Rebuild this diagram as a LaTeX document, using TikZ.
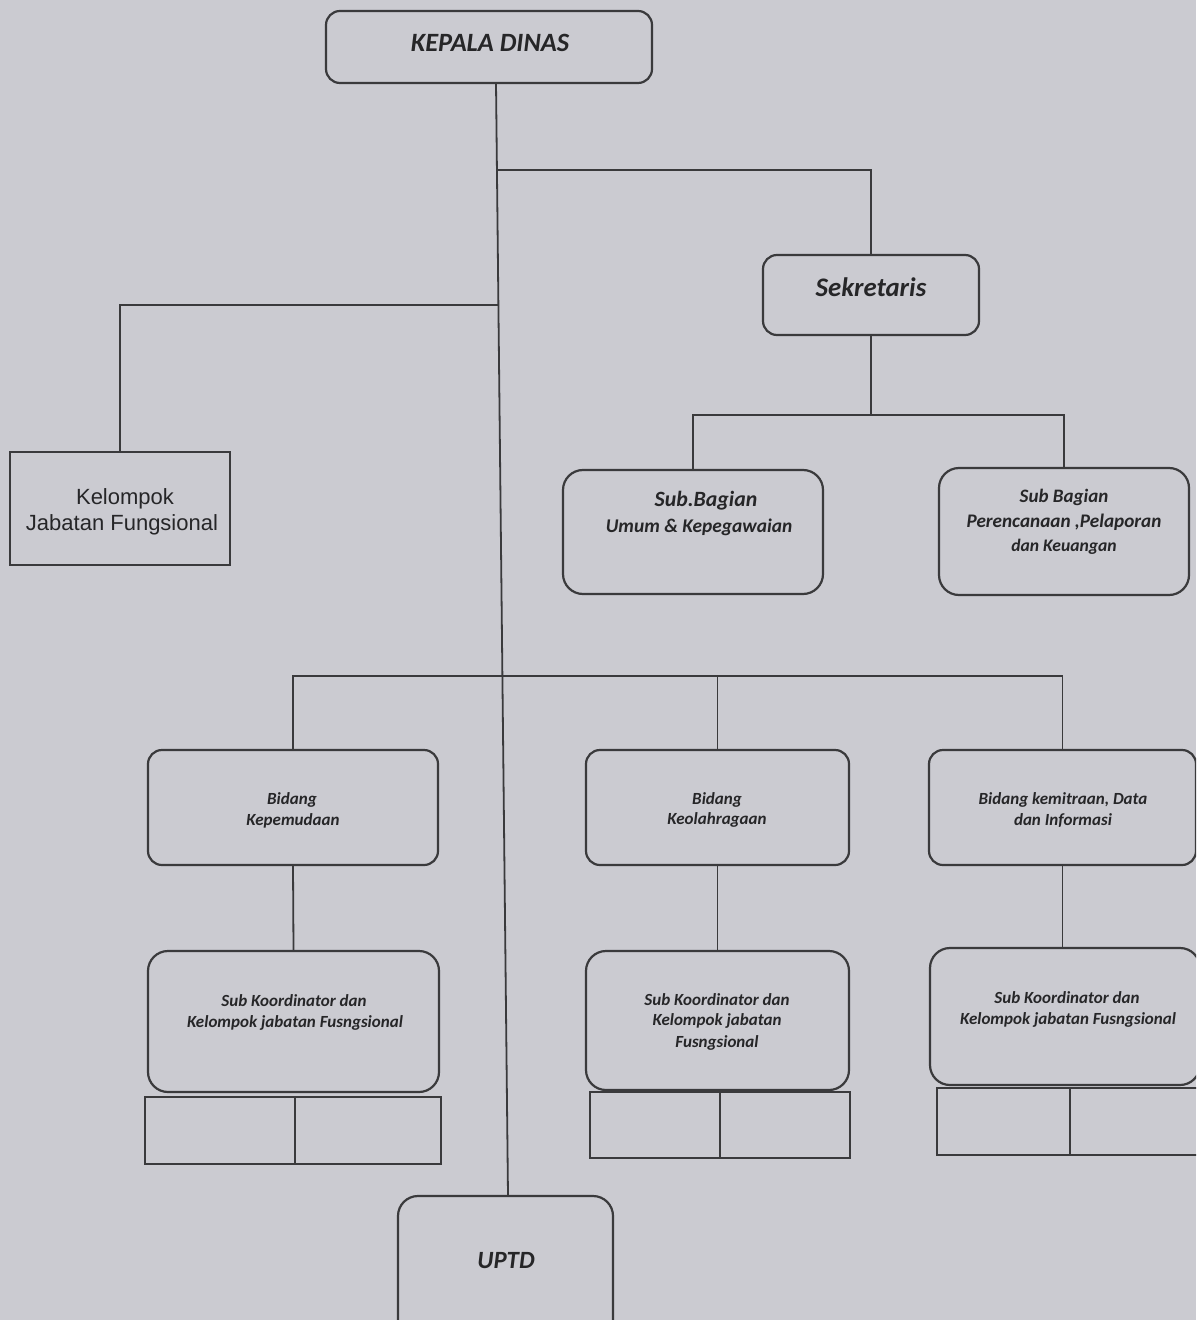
\documentclass[tikz,border=0pt]{standalone}
\usepackage{fontspec}
\setmainfont{Carlito}
\newfontfamily\arialf{Liberation Sans}
\usetikzlibrary{calc}
\definecolor{paper}{RGB}{203,203,209}
\definecolor{ink}{RGB}{58,58,60}
\definecolor{txt}{RGB}{38,38,40}
\tikzset{
  box/.style={draw=ink, line width=1.1pt, rounded corners=7pt, inner sep=0pt, fill=none},
  sqbox/.style={draw=ink, line width=1pt, inner sep=0pt},
  lbl/.style={text=txt, inner sep=0pt, font=\bfseries\itshape},
  conn/.style={draw=ink, line width=0.9pt},
}
\begin{document}
\begin{tikzpicture}[x=0.5pt,y=-0.5pt]
\useasboundingbox (0,0) rectangle (1196,1320);
\fill[paper] (0,0) rectangle (1196,1320);
\clip (0,0) rectangle (1196,1320);

% boxes
\node[box, minimum width=163pt, minimum height=36pt] (kd) at (489,47) {};
\node[box, minimum width=108pt, minimum height=40pt] (sek) at (871,295) {};
\node[box, rounded corners=10pt, minimum width=130pt, minimum height=62pt] (sb1) at (693,532) {};
\node[box, rounded corners=10pt, minimum width=125pt, minimum height=63.5pt] (sb2) at (1064,531.5) {};
\node[sqbox, minimum width=110pt, minimum height=56.5pt] (kjf) at (120,508.5) {};
\node[box, minimum width=145pt, minimum height=57.5pt] (b1) at (293,807.5) {};
\node[box, minimum width=131.5pt, minimum height=57.5pt] (b2) at (717.5,807.5) {};
\node[box, minimum width=133.5pt, minimum height=57.5pt] (b3) at (1062.5,807.5) {};
\node[box, rounded corners=10pt, minimum width=145.5pt, minimum height=70.5pt] (k1) at (293.5,1021.5) {};
\node[box, rounded corners=10pt, minimum width=131.5pt, minimum height=69.5pt] (k2) at (717.5,1020.5) {};
\node[box, rounded corners=10pt, minimum width=135pt, minimum height=68.5pt] (k3) at (1065,1016.5) {};
\node[sqbox, minimum width=75pt, minimum height=33.5pt] (t1a) at (220,1130.5) {};
\node[sqbox, minimum width=73pt, minimum height=33.5pt] (t1b) at (368,1130.5) {};
\node[sqbox, minimum width=65pt, minimum height=33pt] (t2a) at (655,1125) {};
\node[sqbox, minimum width=65pt, minimum height=33pt] (t2b) at (785,1125) {};
\node[sqbox, minimum width=66.5pt, minimum height=33.5pt] (t3a) at (1003.5,1121.5) {};
\node[sqbox, minimum width=70pt, minimum height=33.5pt] (t3b) at (1140,1121.5) {};
\node[box, rounded corners=10pt, minimum width=107.5pt, minimum height=74.5pt] (uptd) at (505.5,1270.5) {};

% labels
\node[lbl, font=\fontsize{13.2}{15}\selectfont\bfseries\itshape] (kdt) at (490,43) {KEPALA DINAS};
\node[lbl, font=\fontsize{13.4}{15}\selectfont\bfseries\itshape] (sekt) at (871,287) {Sekretaris};
\node[lbl, font=\fontsize{10.9}{12}\selectfont\bfseries\itshape] (sb1t1) at (706,501) {Sub.Bagian};
\node[lbl, font=\fontsize{9.7}{11}\selectfont\bfseries\itshape] (sb1t2) at (699,527) {Umum \& Kepegawaian};
\node[lbl, font=\fontsize{9.5}{11}\selectfont\bfseries\itshape] (sb2t1) at (1064,497) {Sub Bagian};
\node[lbl, font=\fontsize{9.6}{11}\selectfont\bfseries\itshape] (sb2t2) at (1064,522) {Perencanaan ,Pelaporan};
\node[lbl, font=\fontsize{8.8}{10}\selectfont\bfseries\itshape] (sb2t3) at (1064,547) {dan Keuangan};
\node[text=txt, inner sep=0pt, font=\arialf\fontsize{11}{13}\selectfont] (kjft1) at (125,499) {Kelompok};
\node[text=txt, inner sep=0pt, font=\arialf\fontsize{11}{13}\selectfont] (kjft2) at (122,525) {Jabatan Fungsional};
\node[lbl, font=\fontsize{8.5}{10}\selectfont\bfseries\itshape] (b1t1) at (292,800) {Bidang};
\node[lbl, font=\fontsize{8.5}{10}\selectfont\bfseries\itshape] (b1t2) at (293,821) {Kepemudaan};
\node[lbl, font=\fontsize{8.5}{10}\selectfont\bfseries\itshape] (b2t1) at (717,800) {Bidang};
\node[lbl, font=\fontsize{8.5}{10}\selectfont\bfseries\itshape] (b2t2) at (717,820) {Keolahragaan};
\node[lbl, font=\fontsize{8.5}{10}\selectfont\bfseries\itshape] (b3t1) at (1063,800) {Bidang kemitraan, Data};
\node[lbl, font=\fontsize{8.5}{10}\selectfont\bfseries\itshape] (b3t2) at (1063,821) {dan Informasi};
\node[lbl, font=\fontsize{8.5}{10}\selectfont\bfseries\itshape] (k1t1) at (294,1001) {Sub Koordinator dan};
\node[lbl, font=\fontsize{8.5}{10}\selectfont\bfseries\itshape] (k1t2) at (295,1023) {Kelompok jabatan Fusngsional};
\node[lbl, font=\fontsize{8.5}{10}\selectfont\bfseries\itshape] (k2t1) at (717,1000) {Sub Koordinator dan};
\node[lbl, font=\fontsize{8.5}{10}\selectfont\bfseries\itshape] (k2t2) at (717,1021) {Kelompok jabatan};
\node[lbl, font=\fontsize{8.5}{10}\selectfont\bfseries\itshape] (k2t3) at (717,1043) {Fusngsional};
\node[lbl, font=\fontsize{8.5}{10}\selectfont\bfseries\itshape] (k3t1) at (1067,998) {Sub Koordinator dan};
\node[lbl, font=\fontsize{8.5}{10}\selectfont\bfseries\itshape] (k3t2) at (1068,1020) {Kelompok jabatan Fusngsional};
\node[lbl, font=\fontsize{12.4}{14}\selectfont\bfseries\itshape] (uptdt) at (506,1261) {UPTD};

% spine
\coordinate (sTop) at (496,83);
\coordinate (sBot) at (508,1196);
\draw[conn] (sTop) -- (sBot);
\coordinate (jSek) at ($(sTop)!0.0782!(sBot)$);
\coordinate (jKjf) at ($(sTop)!0.1995!(sBot)$);
\coordinate (jBid) at ($(sTop)!0.5328!(sBot)$);
\coordinate (jSub) at (871,415);

% connectors
\draw[conn] (jSek) -| (sek.north);
\draw[conn] (sek.south) -- (jSub);
\draw[conn] (sb1.north) |- (jSub) -| (sb2.north);
\draw[conn] (jKjf) -| (kjf.north);
\draw[conn] (b1.north) |- (jBid) -| (b3.north);
\draw[conn] (b2.north) -- (b2.north |- jBid);
\draw[conn] (b1.south) -- (k1.north);
\draw[conn] (b2.south) -- (k2.north);
\draw[conn] (b3.south) -- (b3.south |- k3.north);
\end{tikzpicture}
\end{document}
